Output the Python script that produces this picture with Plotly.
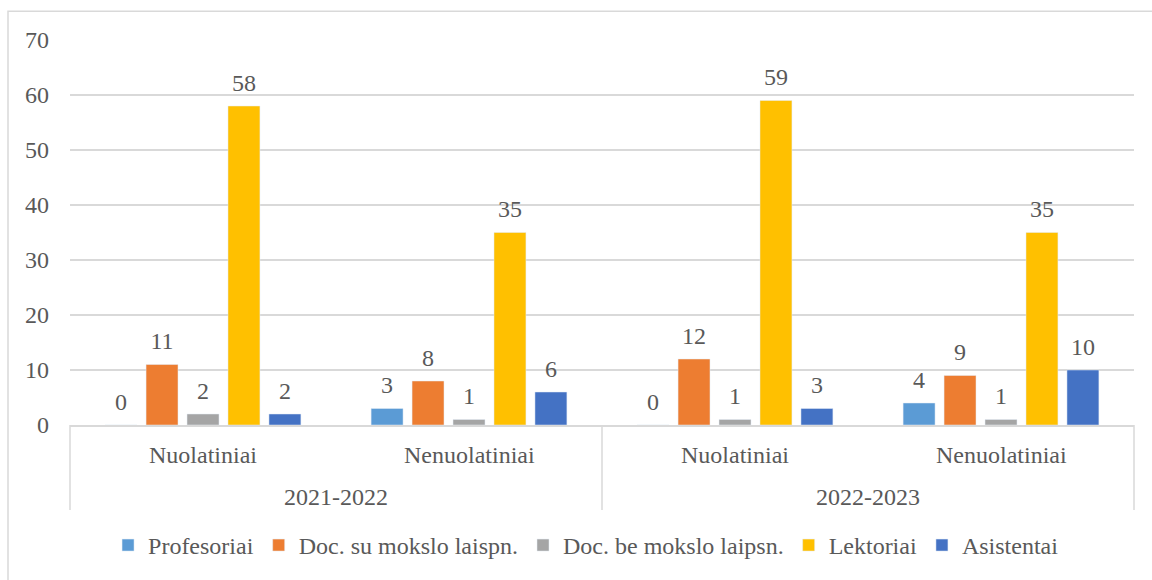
import plotly.graph_objects as go

years = ["2021-2022", "2021-2022", "2022-2023", "2022-2023"]
types = ["Nuolatiniai", "Nenuolatiniai", "Nuolatiniai", "Nenuolatiniai"]

series_names = ["Profesoriai", "Doc. su mokslo laispn.", "Doc. be mokslo laipsn.", "Lektoriai", "Asistentai"]
profesoriai = [0, 3, 0, 4]
doc_su = [11, 8, 12, 9]
doc_be = [2, 1, 1, 1]
lektoriai = [58, 35, 59, 35]
asistentai = [2, 6, 3, 10]
colors = ["#5B9BD5", "#ED7D31", "#A5A5A5", "#FFC000", "#4472C4"]

y_ticks = [0, 10, 20, 30, 40, 50, 60, 70]

FONT = '"Liberation Serif", "Times New Roman", serif'
FS = 24
TXT = "#595959"
GRID = "#D9D9D9"

fig = go.Figure()
for name, vals, col in zip(series_names, [profesoriai, doc_su, doc_be, lektoriai, asistentai], colors):
    fig.add_trace(go.Bar(
        x=[years, types], y=vals, name=name, marker_color=col,
        text=[f"<span style='font-size:{FS}px'>{v}</span><br>&nbsp;" for v in vals],
        textposition="outside", constraintext="none",
        textfont=dict(family=FONT, size=8, color=TXT),
        cliponaxis=False, hoverinfo="x+y+name",
    ))

fig.update_layout(
    width=1152, height=580,
    margin=dict(l=70, r=18, t=40, b=150),
    paper_bgcolor="white", plot_bgcolor="white",
    barmode="group", bargap=0.23, bargroupgap=0.22,
    font=dict(family=FONT, size=FS, color=TXT),
    showlegend=True,
    legend=dict(orientation="h", x=0.485, xanchor="center", y=-122 / 390, yanchor="middle",
                font=dict(family=FONT, size=FS, color=TXT), itemwidth=30,
                traceorder="normal"),
    xaxis=dict(type="multicategory", showline=True, linecolor=GRID, linewidth=1.5,
               showdividers=False, showticklabels=False,
               ticks="", showgrid=False, zeroline=False),
    yaxis=dict(range=[0, 70], tickvals=y_ticks, showgrid=True, gridcolor=GRID, gridwidth=1.5,
               zeroline=False, showline=False, ticks="", ticklabelstandoff=20,
               tickfont=dict(family=FONT, size=FS, color=TXT)),
)

# category labels (inner level and outer level) placed under the axis
n = len(types)
for i, t in enumerate(types):
    fig.add_annotation(text=t, xref="paper", yref="paper", x=(i + 0.5) / n, y=-30 / 390,
                       xanchor="center", yanchor="middle", showarrow=False,
                       font=dict(family=FONT, size=FS, color=TXT))
uniq_years = list(dict.fromkeys(years))
for j, yr in enumerate(uniq_years):
    fig.add_annotation(text=yr, xref="paper", yref="paper", x=(j + 0.5) / len(uniq_years), y=-73 / 390,
                       xanchor="center", yanchor="middle", showarrow=False,
                       font=dict(family=FONT, size=FS, color=TXT))

# divider lines beneath the category axis (Excel style)
for j in range(len(uniq_years) + 1):
    xp = j / len(uniq_years)
    fig.add_shape(type="line", xref="paper", yref="paper", x0=xp, x1=xp, y0=0, y1=-86 / 390,
                  line=dict(color=GRID, width=1.5))

# outer chart border (cut off on right and bottom)
fig.add_shape(type="rect", xref="paper", yref="paper",
              x0=-62 / 1064, x1=1.1, y0=(430 - 11) / 390, y1=-0.5,
              line=dict(color=GRID, width=1.5))

fig.write_html("out.html", config={"displayModeBar": False},
               post_script="document.body.style.margin='0';")
